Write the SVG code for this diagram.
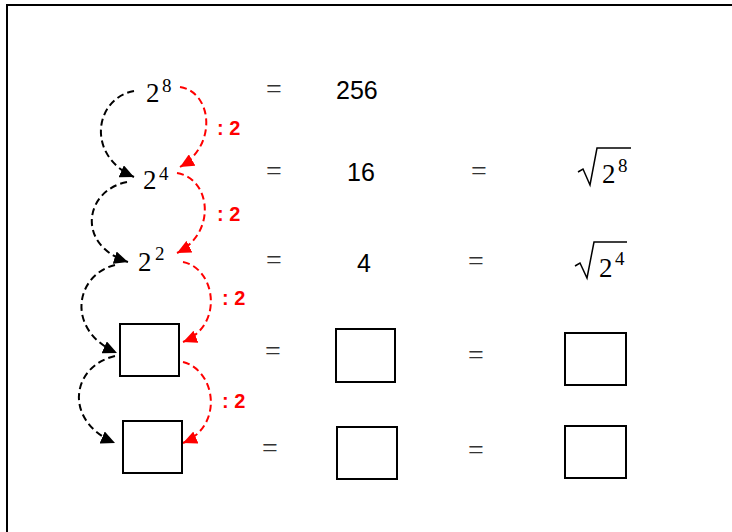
<svg xmlns="http://www.w3.org/2000/svg" width="732" height="532" viewBox="0 0 732 532">
<style>
.frame{fill:none;stroke:#000;stroke-width:2}
.box{fill:#fff;stroke:#000;stroke-width:2}
.math{font-family:"Liberation Serif","DejaVu Serif",serif;fill:#000}
.base{font-size:27px}
.sup{font-size:19px}
.num{font-family:"Liberation Sans",Arial,sans-serif;font-size:25px;fill:#000}
.eq{font-family:"Liberation Serif",serif;font-size:28px;fill:#333;text-anchor:middle}
.lbl{font-family:"Liberation Sans",Arial,sans-serif;font-size:20px;font-weight:bold;fill:#ff0000}
.blk{fill:none;stroke:#000;stroke-width:2;stroke-dasharray:7 4;marker-end:url(#ab)}
.red{fill:none;stroke:#ff0000;stroke-width:2;stroke-dasharray:7 4;marker-end:url(#ar)}
.rad{fill:none;stroke:#000;stroke-width:1.5}
</style>
<defs>
<marker id="ab" markerUnits="userSpaceOnUse" markerWidth="15" markerHeight="13" refX="14" refY="6.5" orient="auto" viewBox="0 0 15 13"><path d="M0,0 L14,6.5 L0,13 Z" fill="#000"/></marker>
<marker id="ar" markerUnits="userSpaceOnUse" markerWidth="15" markerHeight="13" refX="14" refY="6.5" orient="auto" viewBox="0 0 15 13"><path d="M0,0 L14,6.5 L0,13 Z" fill="#ff0000"/></marker>
</defs>
<rect class="frame" x="7" y="5" width="740" height="540"/>

<g id="connectors">
<path class="blk" d="M134,91 C95,98 85,155 134,177"/>
<path class="red" d="M180,87 C212,92 218,145 180,167"/>
<path class="blk" d="M127,182 C85,190 75,245 128,262"/>
<path class="red" d="M177,173 C210,178 218,232 177,253"/>
<path class="blk" d="M115,265 C75,275 65,330 117,353"/>
<path class="red" d="M183,262 C215,268 225,325 183,342"/>
<path class="blk" d="M115,356 C72,366 62,420 115,443"/>
<path class="red" d="M183,362 C215,370 225,425 183,443"/>
<text class="lbl" x="217" y="135">: 2</text>
<text class="lbl" x="217" y="221">: 2</text>
<text class="lbl" x="222" y="305">: 2</text>
<text class="lbl" x="222" y="408">: 2</text>
</g>

<g id="n-2pow8"><text class="math base" x="146" y="102">2</text><text class="math sup" x="162" y="92">8</text></g>
<g id="n-2pow4"><text class="math base" x="143" y="189">2</text><text class="math sup" x="159" y="180">4</text></g>
<g id="n-2pow2"><text class="math base" x="138" y="271">2</text><text class="math sup" x="155" y="260">2</text></g>
<g id="n-box4"><rect class="box" x="120" y="324" width="59" height="52"/></g>
<g id="n-box5"><rect class="box" x="123" y="421" width="59" height="52"/></g>

<g id="n-eq1"><text class="eq" x="274" y="98">=</text></g>
<g id="n-eq2"><text class="eq" x="274" y="180">=</text></g>
<g id="n-eq3"><text class="eq" x="274" y="269">=</text></g>
<g id="n-eq4"><text class="eq" x="273" y="360">=</text></g>
<g id="n-eq5"><text class="eq" x="270" y="457">=</text></g>

<g id="n-256"><text class="num" x="336" y="99">256</text></g>
<g id="n-16"><text class="num" x="347" y="181">16</text></g>
<g id="n-4"><text class="num" x="357" y="272">4</text></g>
<g id="n-box-m4"><rect class="box" x="336" y="329" width="59" height="53"/></g>
<g id="n-box-m5"><rect class="box" x="337" y="427" width="60" height="52"/></g>

<g id="n-eq6"><text class="eq" x="479" y="180">=</text></g>
<g id="n-eq7"><text class="eq" x="476" y="270">=</text></g>
<g id="n-eq8"><text class="eq" x="476" y="364">=</text></g>
<g id="n-eq9"><text class="eq" x="476" y="459">=</text></g>

<g id="n-sqrt8"><path class="rad" d="M578,172 L583,169 L590,185 L597,148 L631,148"/><text class="math base" x="602" y="183">2</text><text class="math sup" x="618" y="172">8</text></g>
<g id="n-sqrt4"><path class="rad" d="M575,266 L580,263 L587,278 L594,242 L627,242"/><text class="math base" x="599" y="277">2</text><text class="math sup" x="615" y="265">4</text></g>
<g id="n-box-r4"><rect class="box" x="565" y="333" width="61" height="52"/></g>
<g id="n-box-r5"><rect class="box" x="565" y="426" width="61" height="52"/></g>
</svg>
